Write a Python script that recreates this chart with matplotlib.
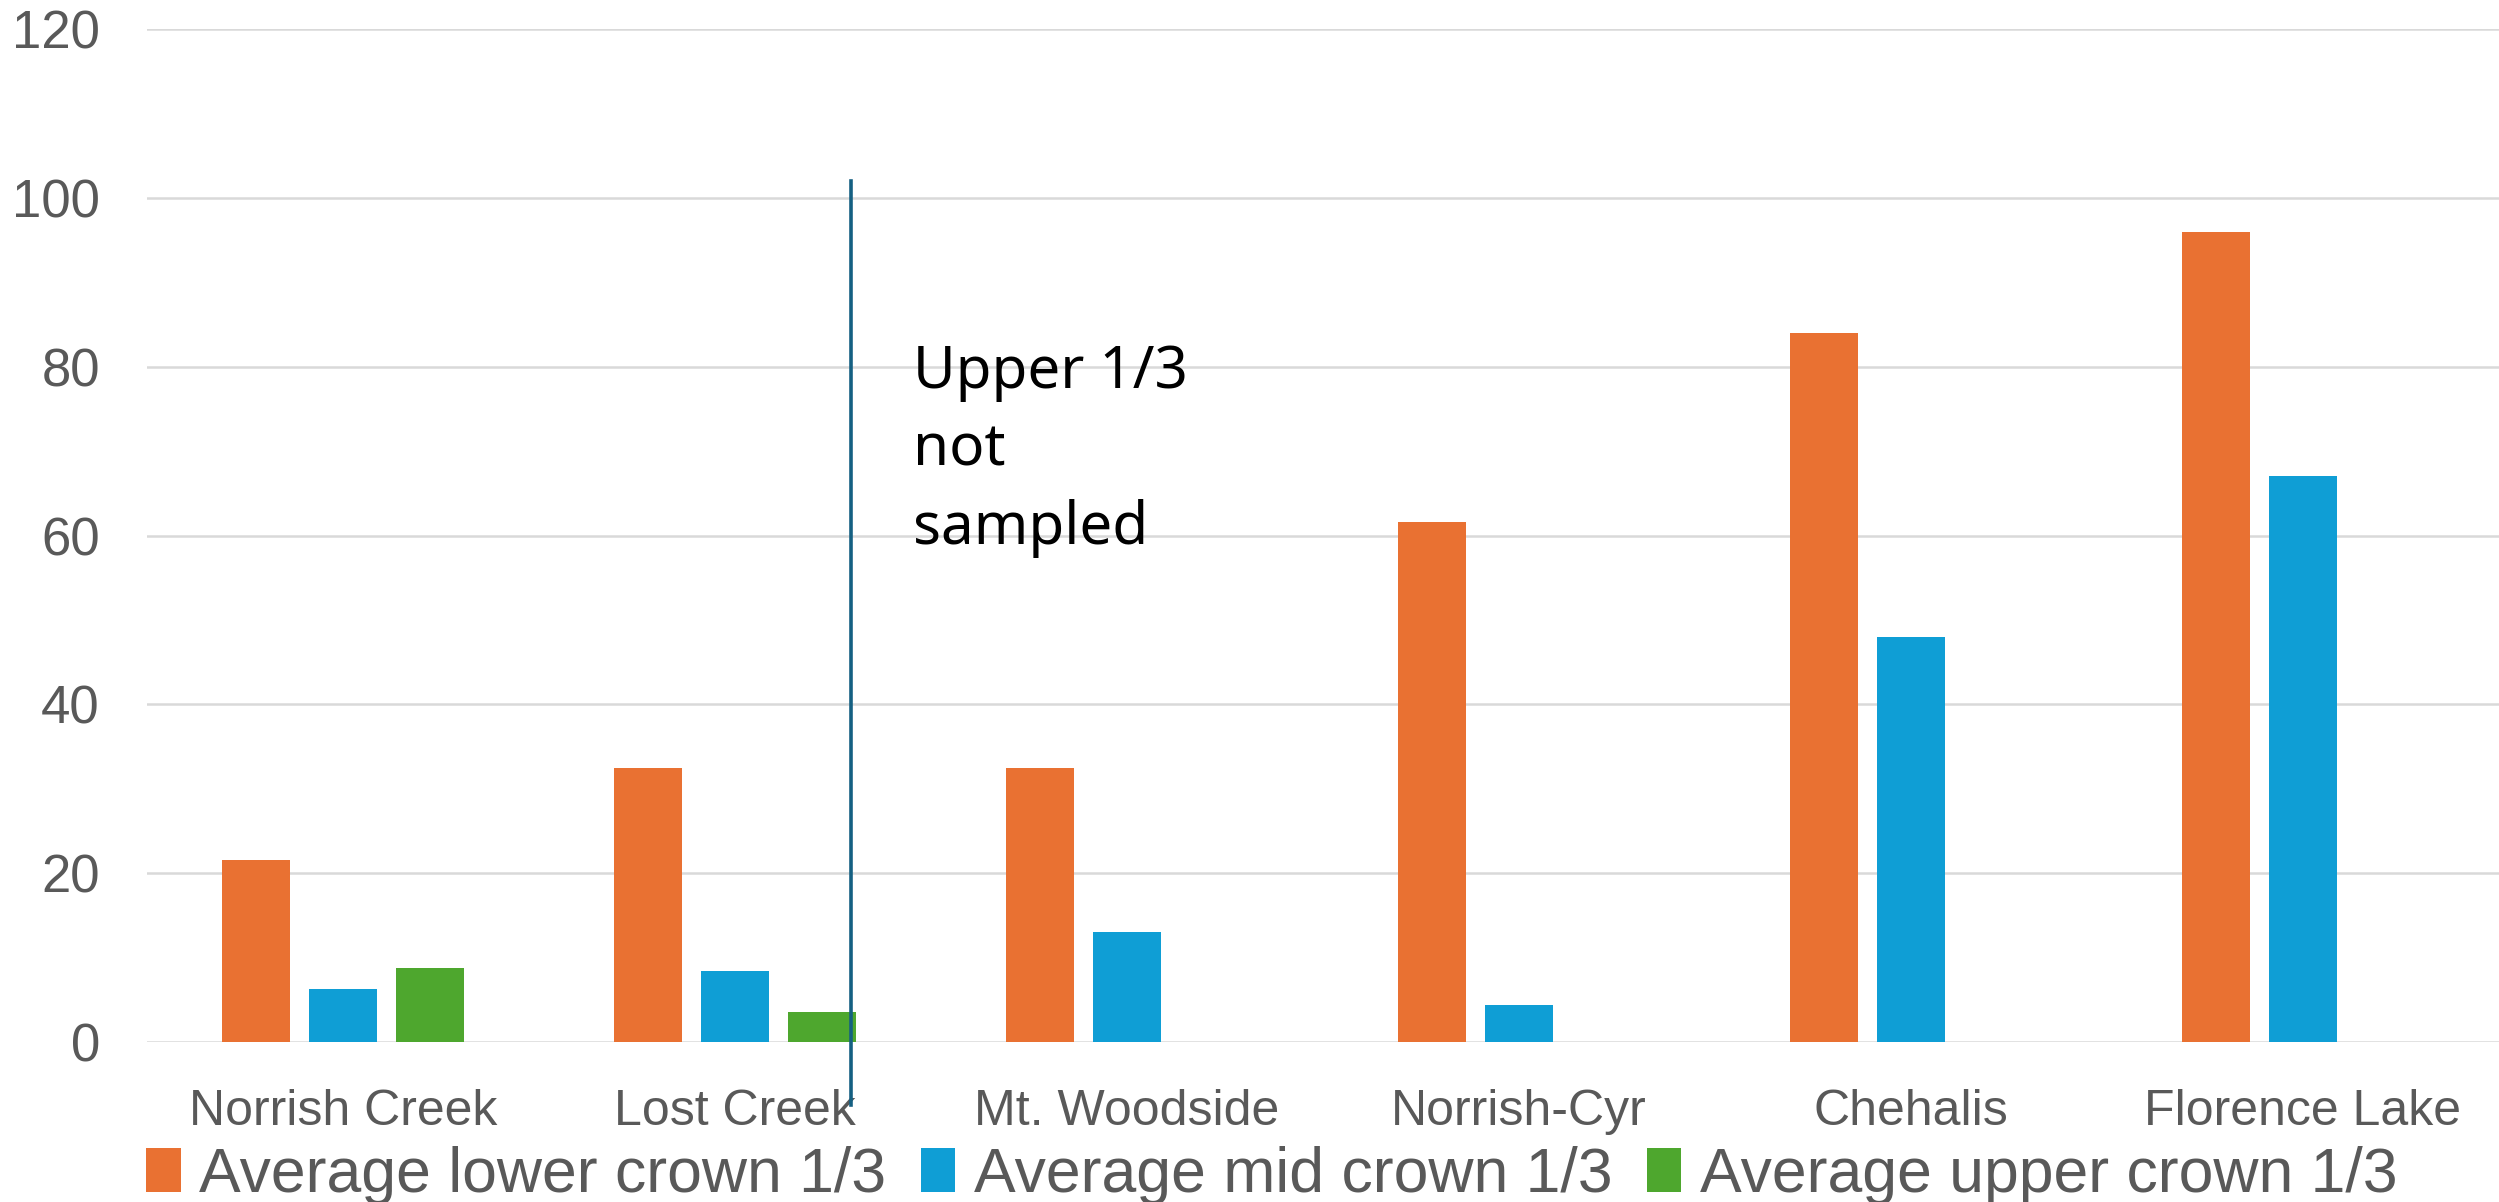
import numpy as np
import matplotlib
matplotlib.use("Agg")
import matplotlib.pyplot as plt
from matplotlib.patches import Patch

sites = ["Norrish Creek", "Lost Creek", "Mt. Woodside", "Norrish-Cyr", "Chehalis", "Florence Lake"]
lower = [21.6, 32.4, 32.4, 61.6, 84.0, 96.0]
mid = [6.3, 8.4, 13.0, 4.4, 48.0, 67.0]
upper = [8.75, 3.5, np.nan, np.nan, np.nan, np.nan]

series_names = ["Average lower crown 1/3", "Average mid crown 1/3", "Average upper crown 1/3"]
colors = ["#E97132", "#0F9ED5", "#4EA72E"]
yticks = [0, 20, 40, 60, 80, 100, 120]

GREY = "#595959"
NARROW = ["Liberation Sans Narrow", "Liberation Sans"]

fig = plt.figure(figsize=(24.99, 12.02), dpi=100)
ax = fig.add_axes([147 / 2499, 160 / 1202, 1 - 147 / 2499, (1042 - 29) / 1202])

x = np.arange(len(sites))
bar_w = 0.175
step = 0.222
for i, (vals, c) in enumerate(zip([lower, mid, upper], colors)):
    ax.bar(x + (i - 1) * step, vals, width=bar_w, color=c, zorder=3)

ax.set_xlim(-0.5, 5.5)
ax.set_ylim(0, 120)
ax.set_yticks(yticks)
ax.set_yticklabels([str(t) for t in yticks], fontsize=38, color=GREY, family="Liberation Sans")
ax.set_xticks(x)
ax.set_xticklabels(sites, fontsize=36, color=GREY, family=NARROW)
ax.tick_params(axis="both", length=0)
ax.tick_params(axis="y", pad=34)
ax.tick_params(axis="x", pad=34)
ax.grid(axis="y", color="#D9D9D9", linewidth=1.8, zorder=0)
ax.set_axisbelow(True)
for s in ax.spines.values():
    s.set_visible(False)

# divider drawn over the Lost Creek group
ax.plot([1.296, 1.296], [102.0, -7.5], color="#156082", linewidth=2.6, clip_on=False, zorder=5)
ax.text(1.454, 82.8, "Upper 1/3\nnot\nsampled", fontsize=42, color="black",
        family="Noto Sans", va="top", ha="left", linespacing=1.42)

handles = [Patch(facecolor=c, edgecolor="none") for c in colors]
fig.legend(handles, series_names, loc="center", bbox_to_anchor=(0.509, 0.022), ncol=3,
           frameon=False, prop={"family": NARROW, "size": 45}, labelcolor=GREY,
           handlelength=0.55, handleheight=0.7, handletextpad=0.3, columnspacing=0.55,
           borderpad=0, borderaxespad=0)

fig.savefig("out.png", dpi=100)
